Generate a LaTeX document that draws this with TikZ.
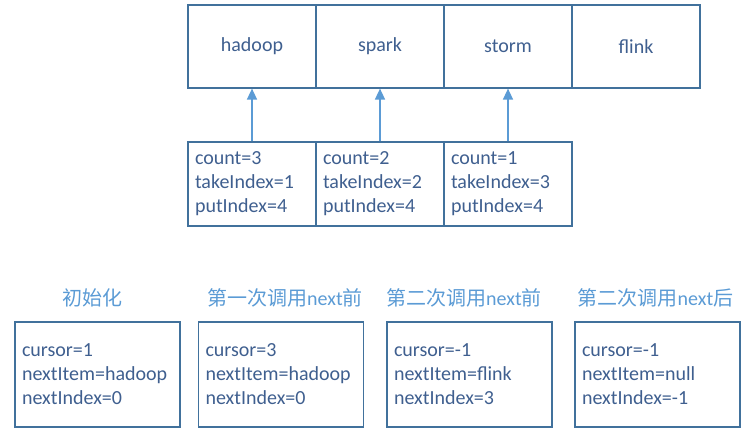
\documentclass[tikz,border=0pt]{standalone}
\usepackage{fontspec}
\setmainfont{Carlito}
\newfontfamily\cjk{Noto Sans CJK SC}
\usetikzlibrary{arrows.meta}
\definecolor{boxline}{HTML}{41719C}
\definecolor{txt}{HTML}{3F5F8F}
\definecolor{lblue}{HTML}{5B9BD5}
\begin{document}
\begin{tikzpicture}[x=1pt,y=-1pt,
  cell/.style={draw=boxline,line width=1.2pt,minimum width=128pt,minimum height=83pt,inner sep=0pt,text=txt,font=\fontsize{20}{24}\selectfont},
  midbox/.style={draw=boxline,line width=1.2pt,minimum width=128pt,minimum height=84pt,text width=114pt,inner sep=7pt,align=left,text=txt,font=\fontsize{20}{24}\selectfont},
  statebox/.style={draw=boxline,line width=1.2pt,minimum width=165pt,minimum height=105pt,text width=151pt,inner sep=7pt,align=left,text=txt,font=\fontsize{20}{24}\selectfont},
  ttl/.style={text=lblue,inner sep=0pt,font=\fontsize{20}{24}\selectfont},
  arr/.style={draw=lblue,line width=1.5pt,-{Triangle[width=10pt,length=11pt]}}]
\useasboundingbox (0,0) rectangle (747,431);
% top array
\node[cell] (t1) at (252,46.5) {hadoop};
\node[cell] (t2) at (380,46.5) {spark};
\node[cell] (t3) at (508,46.5) {storm};
\node[cell] (t4) at (636,46.5) {flink};
% middle
\node[midbox] (m1) at (252,184) {count=3\\takeIndex=1\\putIndex=4};
\node[midbox] (m2) at (380,184) {count=2\\takeIndex=2\\putIndex=4};
\node[midbox] (m3) at (508,184) {count=1\\takeIndex=3\\putIndex=4};
\draw[arr] (m1.north) -- (t1.south);
\draw[arr] (m2.north) -- (t2.south);
\draw[arr] (m3.north) -- (t3.south);
% titles
\node[ttl] (h1) at (92.5,298) {\cjk 初始化};
\node[ttl] (h2) at (285,298) {{\cjk 第一次调用}next{\cjk 前}};
\node[ttl] (h3) at (464,298) {{\cjk 第二次调用}next{\cjk 前}};
\node[ttl] (h4) at (655.5,298) {{\cjk 第二次调用}next{\cjk 后}};
% bottom state boxes
\node[statebox] (s1) at (97.5,374.5) {cursor=1\\nextItem=hadoop\\nextIndex=0};
\node[statebox] (s2) at (281,374.5) {cursor=3\\nextItem=hadoop\\nextIndex=0};
\node[statebox] (s3) at (469.5,374.5) {cursor=-1\\nextItem=flink\\nextIndex=3};
\node[statebox] (s4) at (657.5,374.5) {cursor=-1\\nextItem=null\\nextIndex=-1};
\end{tikzpicture}
\end{document}
